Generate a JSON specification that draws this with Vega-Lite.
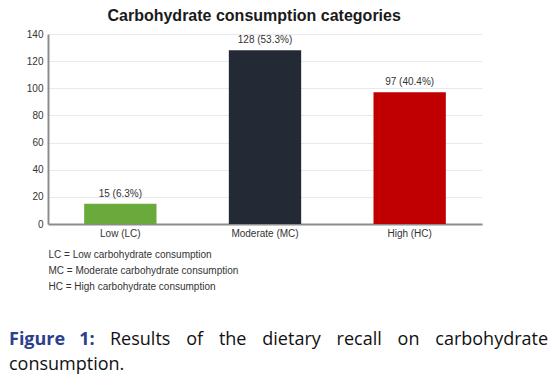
{
  "$schema": "https://vega.github.io/schema/vega-lite/v6.json",
  "background": "white",
  "padding": {"left": 9, "top": 8, "right": 2, "bottom": 5},
  "bounds": "flush",
  "spacing": 121,
  "config": {"view": {"stroke": null}, "font": "Liberation Sans"},
  "vconcat": [
    {
      "width": 434,
      "height": 190,
      "title": {"text": "Carbohydrate consumption categories", "fontSize": 16, "fontWeight": "bold", "font": "Liberation Sans", "color": "#1a1a1a", "offset": 5, "anchor": "middle", "frame": "bounds"},
      "data": {"values": [
        {"category": "Low (LC)", "count": 15, "label": "15 (6.3%)"},
        {"category": "Moderate (MC)", "count": 128, "label": "128 (53.3%)"},
        {"category": "High (HC)", "count": 97, "label": "97 (40.4%)"}
      ]},
      "encoding": {
        "x": {"field": "category", "type": "nominal", "sort": null,
          "scale": {"paddingInner": 0.5, "paddingOuter": 0.25},
          "axis": {"labelAngle": 0, "labelFontSize": 10, "labelColor": "#333", "domainColor": "#8c8c8c", "domainWidth": 2, "ticks": false, "labelPadding": 4,
            "title": ["LC = Low carbohydrate consumption", "MC = Moderate carbohydrate consumption", "HC = High carbohydrate consumption"],
            "titleAnchor": "start", "titleAlign": "left", "titleFontWeight": "normal", "titleFontSize": 10, "titleColor": "#333", "titleLineHeight": 16, "titlePadding": 11}},
        "y": {"field": "count", "type": "quantitative", "scale": {"domain": [0, 140]},
          "axis": {"values": [0, 20, 40, 60, 80, 100, 120, 140], "grid": true, "gridColor": "#e8e8ee", "domainColor": "#8c8c8c", "domainWidth": 2, "ticks": false, "labelFontSize": 10, "labelColor": "#333", "labelPadding": 5, "title": null}}
      },
      "layer": [
        {"mark": {"type": "bar"},
         "encoding": {"color": {"field": "category", "type": "nominal", "scale": {"domain": ["Low (LC)", "Moderate (MC)", "High (HC)"], "range": ["#6aaa3c", "#232a35", "#c00000"]}, "legend": null}}},
        {"mark": {"type": "text", "baseline": "bottom", "dy": -5, "fontSize": 10, "color": "#333"},
         "encoding": {"text": {"field": "label"}}}
      ]
    },
    {
      "width": 434,
      "height": 25,
      "data": {"values": [
        {"line": "1", "kind": "label", "text": "Figure \u00a0\u00a01:"},
        {"line": "1", "kind": "body", "text": "Results \u00a0\u00a0\u200aof \u00a0\u00a0\u200athe \u00a0\u00a0\u200adietary \u00a0\u00a0\u200arecall \u00a0\u00a0\u200aon \u00a0\u00a0\u200acarbohydrate"},
        {"line": "2", "kind": "tail", "text": "consumption."}
      ]},
      "encoding": {
        "y": {"field": "line", "type": "ordinal", "scale": {"type": "point", "padding": 0}, "axis": null},
        "x": {"datum": 0, "type": "quantitative", "scale": {"domain": [0, 1]}, "axis": null},
        "text": {"field": "text"}
      },
      "layer": [
        {"transform": [{"filter": "datum.kind === 'label'"}],
         "mark": {"type": "text", "align": "left", "baseline": "alphabetic", "dx": -39, "font": "Open Sans", "fontSize": 18, "fontWeight": "bold", "color": "#2b3f8c"}},
        {"transform": [{"filter": "datum.kind === 'body'"}],
         "mark": {"type": "text", "align": "left", "baseline": "alphabetic", "dx": 62, "font": "Open Sans", "fontSize": 18, "color": "#111"}},
        {"transform": [{"filter": "datum.kind === 'tail'"}],
         "mark": {"type": "text", "align": "left", "baseline": "alphabetic", "dx": -39, "font": "Open Sans", "fontSize": 18, "color": "#111"}}
      ]
    }
  ]
}
